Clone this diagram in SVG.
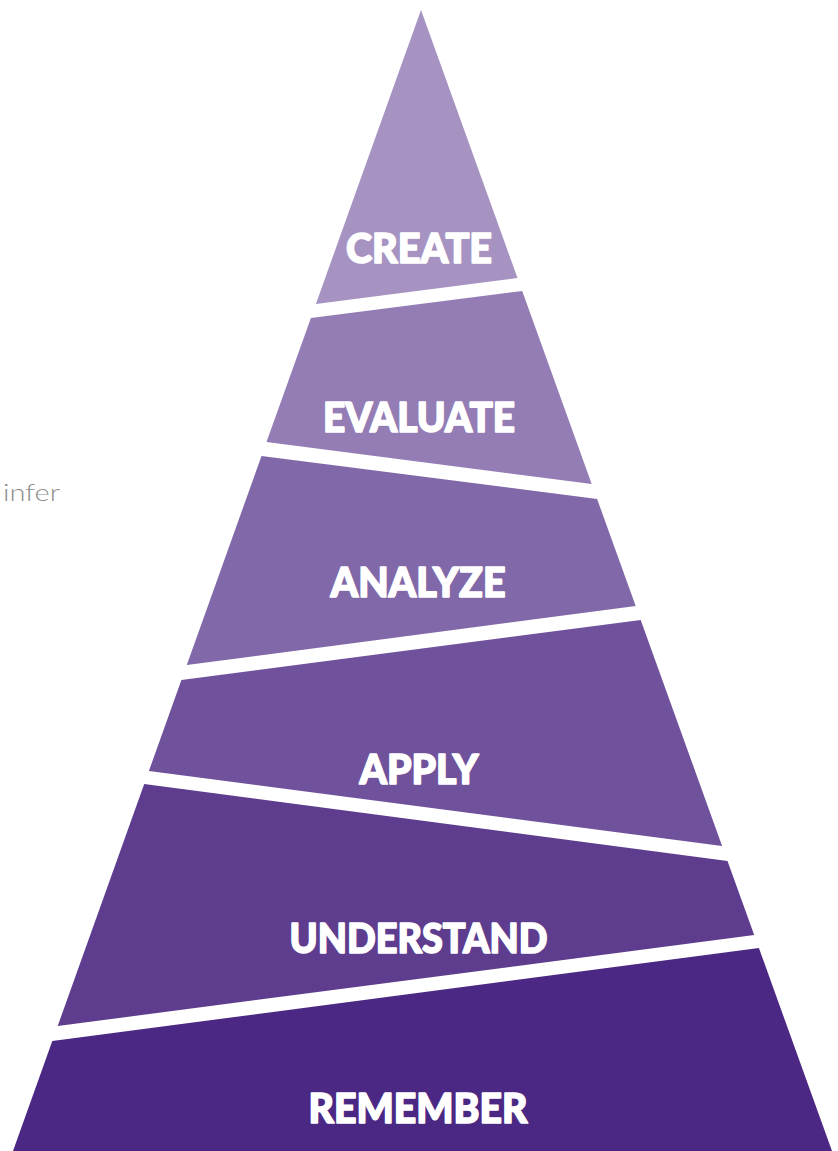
<svg xmlns="http://www.w3.org/2000/svg" width="838" height="1151" viewBox="0 0 838 1151">
<style>
.lbl{font-family:Lato,"Liberation Sans",sans-serif;font-weight:900;font-size:41px;fill:#ffffff;stroke:#ffffff;stroke-width:1.6;stroke-linejoin:round;text-anchor:middle}
.side{font-family:Lato,"Liberation Sans",sans-serif;font-weight:300;font-size:24px;fill:#8c8c8c}
</style>
<rect width="838" height="1151" fill="#ffffff"/>
<g id="create">
<polygon points="421,10 517.5,278 315.9,304" fill="#A693C2"/>
<text class="lbl" x="419" y="263" textLength="146" lengthAdjust="spacingAndGlyphs">CREATE</text>
</g>
<g id="evaluate">
<polygon points="310.9,318 522.2,291 591.7,484 266.5,442" fill="#947DB5"/>
<text class="lbl" x="419" y="432" textLength="192" lengthAdjust="spacingAndGlyphs">EVALUATE</text>
</g>
<g id="analyze">
<polygon points="261.5,456 597.1,499 635.7,606 186.8,665" fill="#8168A8"/>
<text class="lbl" x="418" y="597" textLength="175" lengthAdjust="spacingAndGlyphs">ANALYZE</text>
</g>
<g id="apply">
<polygon points="181.4,680 640.7,620 722.1,846 148.9,771" fill="#70529C"/>
<text class="lbl" x="419" y="784" textLength="119" lengthAdjust="spacingAndGlyphs">APPLY</text>
</g>
<g id="understand">
<polygon points="144.2,784 727.5,861 754.2,935 57.7,1026" fill="#5E3D8F"/>
<text class="lbl" x="418.5" y="953" textLength="258" lengthAdjust="spacingAndGlyphs">UNDERSTAND</text>
</g>
<g id="remember">
<polygon points="52.3,1041 758.9,948 832,1151 13,1151" fill="#4B2883"/>
<text class="lbl" x="418" y="1123" textLength="219" lengthAdjust="spacingAndGlyphs">REMEMBER</text>
</g>
<g id="connectors"/>
<text class="side" x="3" y="501" textLength="57" lengthAdjust="spacingAndGlyphs">infer</text>
</svg>
